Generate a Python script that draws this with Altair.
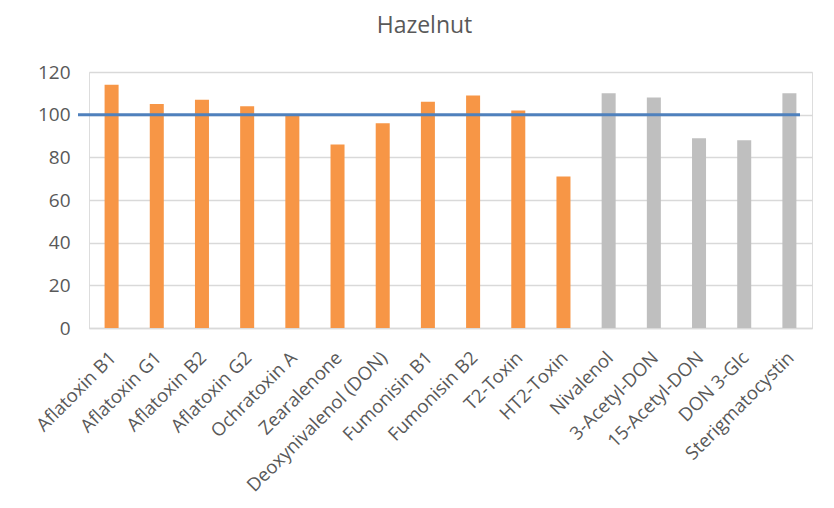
import altair as alt
import pandas as pd

categories = [
    "Aflatoxin B1", "Aflatoxin G1", "Aflatoxin B2", "Aflatoxin G2", "Ochratoxin A",
    "Zearalenone", "Deoxynivalenol (DON)", "Fumonisin B1", "Fumonisin B2", "T2-Toxin",
    "HT2-Toxin", "Nivalenol", "3-Acetyl-DON", "15-Acetyl-DON", "DON 3-Glc", "Sterigmatocystin",
]
values = [114, 105, 107, 104, 100, 86, 96, 106, 109, 102, 71, 110, 108, 89, 88, 110]
groups = ["main"] * 11 + ["other"] * 5
reference_value = [100]

df = pd.DataFrame({"cat": categories, "val": values, "grp": groups})
ref = pd.DataFrame({"ref": reference_value})

FONT = "Open Sans"
TXT = "#595959"

bars = alt.Chart(df).mark_bar().encode(
    x=alt.X(
        "cat:N", sort=categories, title=None,
        scale=alt.Scale(paddingInner=0.69, paddingOuter=0.345),
        axis=alt.Axis(labelAngle=-45, labelAlign="right", labelBaseline="top",
                      labelFontSize=18.5, labelColor=TXT, labelFont=FONT, labelPadding=20,
                      labelOffset=-5, labelLimit=400,
                      ticks=False, domainColor="#d9d9d9", domainWidth=1.5, labelOverlap=False),
    ),
    y=alt.Y(
        "val:Q", title=None,
        scale=alt.Scale(domain=[0, 120], nice=False),
        axis=alt.Axis(values=[0, 20, 40, 60, 80, 100, 120], grid=True, gridColor="#d9d9d9",
                      gridWidth=1.5, domain=False, ticks=False, labelPadding=19,
                      labelFontSize=19, labelColor=TXT, labelFont=FONT),
    ),
    color=alt.Color("grp:N", scale=alt.Scale(domain=["main", "other"], range=["#F79646", "#BFBFBF"]),
                    legend=None),
)

rule = alt.Chart(ref).mark_rule(color="#4F81BD", strokeWidth=3).encode(
    y=alt.Y("ref:Q"),
    x=alt.value(-11),
    x2=alt.value(711),
)

chart = (bars + rule).properties(
    width=723,
    height=256,
    autosize="none",
    padding={"left": 81, "top": 64, "right": 14, "bottom": 172},
    title=alt.TitleParams("Hazelnut", fontSize=23, font=FONT, color=TXT, fontWeight="normal",
                          dx=-26, offset=25),
).configure_view(stroke=None).configure(background="white")

chart.save("out.html", embed_options={"renderer": "svg", "actions": False})
